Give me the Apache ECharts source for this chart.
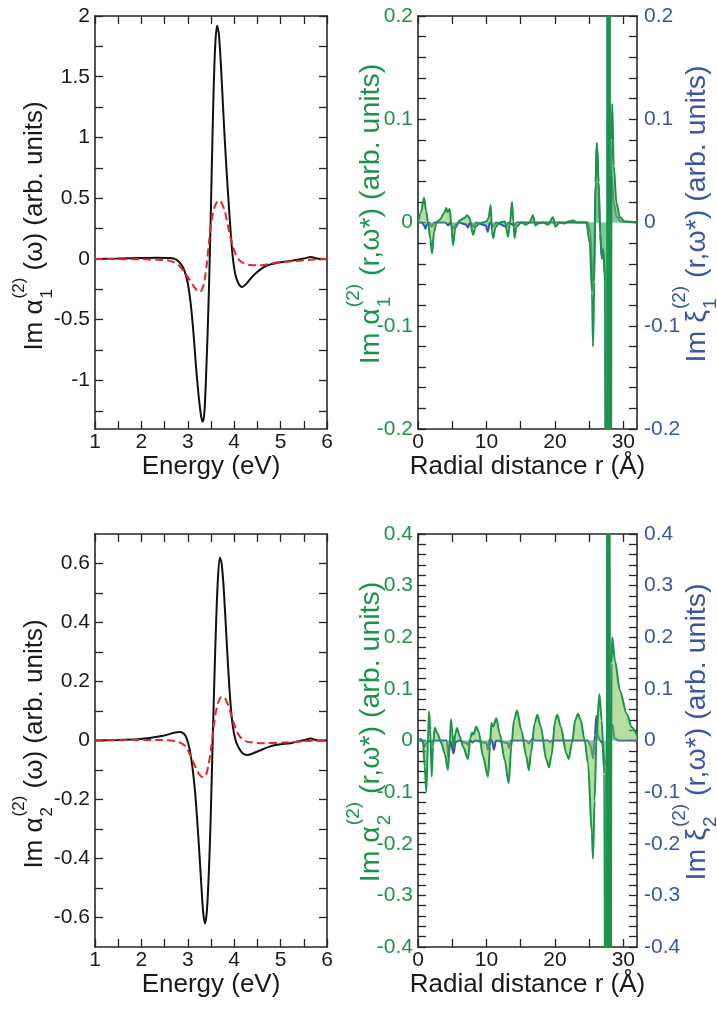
<!DOCTYPE html>
<html><head><meta charset="utf-8">
<script src="https://cdn.jsdelivr.net/npm/echarts@6/dist/echarts.min.js"></script>
<style>html,body{margin:0;padding:0;background:#fff}#c{width:717px;height:1010px}</style>
</head><body><div id="c"></div>
<script>
const FONT = '"Liberation Sans", Arial, Helvetica, sans-serif';

// ---------- data ----------
// Panel (a): Im alpha_1^(2)(omega) vs energy
const energyBlack1 = [[1,0],[1.5,0.003],[2.0,0.008],[2.33,0.01],[2.62,0.008],[2.75,-0.005],[2.85,-0.04],[2.93,-0.1],[3.0,-0.2],[3.06,-0.36],[3.12,-0.6],[3.18,-0.9],[3.24,-1.15],[3.29,-1.3],[3.325,-1.34],[3.36,-1.25],[3.40,-0.9],[3.45,-0.33],[3.50,0.45],[3.55,1.3],[3.59,1.75],[3.63,1.92],[3.67,1.85],[3.72,1.55],[3.78,1.1],[3.84,0.7],[3.90,0.35],[3.96,0.05],[4.02,-0.12],[4.09,-0.2],[4.17,-0.23],[4.26,-0.205],[4.37,-0.155],[4.49,-0.11],[4.63,-0.07],[4.78,-0.045],[5.0,-0.027],[5.21,-0.016],[5.5,0.003],[5.65,0.016],[5.78,0.003],[6,0]];
const energyRed1 = [[1,0],[2.0,-0.003],[2.3,-0.005],[2.62,-0.016],[2.8,-0.05],[2.91,-0.1],[3.02,-0.16],[3.12,-0.22],[3.2,-0.26],[3.26,-0.27],[3.31,-0.25],[3.36,-0.18],[3.41,-0.04],[3.46,0.15],[3.52,0.33],[3.58,0.43],[3.64,0.475],[3.68,0.48],[3.73,0.46],[3.8,0.39],[3.88,0.245],[3.95,0.13],[4.02,0.05],[4.1,-0.005],[4.2,-0.035],[4.35,-0.05],[4.5,-0.052],[4.63,-0.05],[4.92,-0.03],[5.35,-0.016],[5.7,-0.005],[6,0]];
// Panel (b): radial distribution, alpha_1 (green) and xi_1 (blue)
const radialGreen1 = [[0,0],[0.45,0.01],[0.88,0.024],[1.2,0.011],[1.46,0],[1.8,-0.016],[2.05,-0.03],[2.35,-0.009],[2.7,0],[3.2,0.003],[3.8,0.009],[4.14,0.014],[4.3,0.01],[4.63,0.013],[4.87,-0.002],[5.11,-0.022],[5.46,-0.005],[6.1,0.002],[6.7,0.004],[7.2,0.007],[7.55,0.004],[8.04,-0.012],[8.4,-0.004],[9.0,-0.001],[10.0,0.001],[10.3,0.004],[10.62,0.017],[10.8,-0.009],[11.0,-0.015],[11.3,-0.005],[11.9,0],[12.7,0.001],[13.15,-0.014],[13.45,0],[13.74,0.02],[13.93,0.001],[14.1,-0.015],[14.4,-0.004],[15.1,0],[15.8,-0.002],[16.3,0],[16.8,0.007],[17.15,-0.003],[17.5,-0.001],[18.3,0],[19.0,-0.002],[19.73,0.005],[20.07,-0.004],[20.7,0],[21.4,-0.001],[22.0,0.001],[22.7,0.002],[23.2,0],[24.6,0],[25.1,-0.02],[25.42,-0.068],[25.57,-0.12],[25.76,-0.058],[25.96,0.039],[26.15,0.076],[26.4,0.039],[26.64,-0.01],[26.88,-0.034],[27.07,-0.026],[27.35,-0.058],[27.6,-1.5],[27.72,1.5],[27.84,-1.5],[27.96,1.5],[28.08,-1.5],[28.28,0.08],[28.38,0.115],[28.6,0.055],[29.0,0.019],[29.5,0.005],[30.2,0.001],[32,0]];
const radialBlue1 = [[0,0],[0.6,0],[0.9,-0.003],[1.1,-0.006],[1.3,-0.002],[1.6,0],[2.0,-0.004],[2.4,0],[4.0,0],[4.4,-0.003],[4.7,0],[5.1,-0.006],[5.5,-0.002],[6,0],[7.0,-0.002],[7.3,-0.005],[7.6,0],[8.1,-0.004],[8.5,0],[9.9,-0.003],[10.2,-0.009],[10.5,0],[11.0,-0.004],[11.4,0],[12.9,-0.004],[13.2,0],[14.1,-0.003],[14.5,0],[24.8,0],[25.2,-0.01],[25.5,-0.065],[25.75,-0.03],[25.95,0.04],[26.12,0.077],[26.35,0.04],[26.6,-0.01],[26.85,-0.035],[27.1,-0.03],[27.35,-0.05],[27.62,-1.0],[27.8,1.0],[28.05,0.0],[28.3,0.045],[28.6,0.02],[29.0,0.006],[29.6,0.001],[32,0]];
// Panel (c): Im alpha_2^(2)(omega) vs energy
const energyBlack2 = [[1,0],[1.5,0.002],[1.97,0.005],[2.47,0.016],[2.7,0.026],[2.82,0.029],[2.9,0.025],[2.97,0.01],[3.04,-0.03],[3.1,-0.09],[3.16,-0.18],[3.22,-0.31],[3.28,-0.46],[3.33,-0.58],[3.37,-0.62],[3.41,-0.58],[3.45,-0.46],[3.49,-0.28],[3.54,0.02],[3.59,0.3],[3.64,0.52],[3.69,0.62],[3.73,0.6],[3.78,0.5],[3.84,0.33],[3.9,0.17],[3.96,0.06],[4.03,0.0],[4.1,-0.025],[4.18,-0.043],[4.29,-0.049],[4.4,-0.044],[4.55,-0.034],[4.78,-0.02],[5.0,-0.013],[5.21,-0.009],[5.53,0.002],[5.65,0.007],[5.78,0.001],[6,0]];
const energyRed2 = [[1,0],[2.33,0.002],[2.6,0],[2.76,-0.003],[2.9,-0.013],[2.98,-0.026],[3.08,-0.06],[3.16,-0.088],[3.24,-0.113],[3.3,-0.123],[3.35,-0.124],[3.4,-0.113],[3.45,-0.08],[3.5,-0.03],[3.55,0.04],[3.61,0.1],[3.67,0.135],[3.73,0.148],[3.78,0.147],[3.84,0.132],[3.91,0.1],[3.99,0.059],[4.06,0.03],[4.13,0.012],[4.25,-0.002],[4.35,-0.006],[4.63,-0.009],[5.06,-0.007],[5.57,-0.002],[6,0]];
// Panel (d): radial distribution, alpha_2 (green) and xi_2 (blue)
const radialGreen2 = [[0,0],[0.39,0.003],[0.73,-0.002],[0.97,-0.05],[1.22,-0.099],[1.46,0],[1.61,0.056],[1.8,0.02],[2.0,-0.07],[2.19,-0.012],[2.44,0.025],[2.83,0.014],[3.41,-0.005],[3.9,-0.025],[4.38,-0.057],[4.63,-0.005],[4.82,0.041],[5.02,0.014],[5.21,-0.015],[5.46,0.014],[5.7,0.024],[6.09,0.008],[6.58,-0.012],[7.31,-0.036],[7.65,0.005],[7.89,0.015],[8.13,0.012],[8.52,0.027],[8.87,0.017],[9.5,-0.031],[10.23,-0.07],[10.52,-0.012],[10.72,0.034],[10.96,0.027],[11.45,0.043],[11.93,0.014],[12.66,-0.037],[13.25,-0.083],[13.64,-0.012],[14.03,0.04],[14.47,0.058],[15.1,0.02],[15.83,-0.031],[16.2,-0.058],[16.5,-0.025],[17.05,0.034],[17.44,0.05],[17.93,0.027],[18.75,-0.037],[19.14,-0.052],[19.48,-0.031],[20.07,0.04],[20.36,0.05],[20.85,0.027],[21.68,-0.025],[22.02,-0.036],[22.5,-0.005],[22.99,0.04],[23.38,0.052],[23.77,0.04],[24.35,0],[24.84,-0.044],[25.4,-0.18],[25.57,-0.229],[25.8,-0.116],[26.1,0.013],[26.5,0.09],[26.85,0.039],[27.2,-0.065],[27.55,-1.5],[27.68,1.5],[27.81,-1.5],[27.94,1.5],[28.07,-1.5],[28.28,0.15],[28.38,0.2],[28.77,0.155],[29.5,0.097],[30.5,0.052],[31.2,0.026],[32,0.01]];
const radialBlue2 = [[0,0],[0.7,0],[0.95,-0.012],[1.2,-0.006],[1.5,0],[2.0,-0.004],[2.3,0],[4.2,0],[4.45,-0.034],[4.7,0],[5.2,-0.025],[5.5,-0.003],[6,0],[7.1,-0.005],[7.3,-0.008],[7.6,0],[8.0,-0.004],[8.3,0],[10.0,-0.005],[10.2,-0.018],[10.5,0.003],[10.8,0],[11.1,-0.018],[11.4,0],[13.1,-0.005],[13.3,-0.015],[13.6,0],[15.8,0],[16.2,-0.006],[16.5,0],[16.8,0.004],[17.1,0],[19.0,0],[19.3,-0.003],[19.6,0],[24.8,0],[25.2,-0.01],[25.6,-0.035],[25.85,0.01],[26.05,0.048],[26.3,0.01],[26.6,0],[26.9,-0.005],[27.2,-0.03],[27.4,-0.05],[27.62,-1.0],[27.8,1.0],[28.05,0.0],[28.3,0.03],[28.45,0.03],[28.7,0.005],[29.3,0],[32,0]];

// ---------- ticks & labels ----------
const energyTicks = [1,1.5,2,2.5,3,3.5,4,4.5,5,5.5,6];
const energyLabels = [1,2,3,4,5,6];
const radialTicks = [0,5,10,15,20,25,30];
const radialLabels = [0,10,20,30];
const yTicksA = [-1.25,-1,-0.75,-0.5,-0.25,0,0.25,0.5,0.75,1,1.25,1.5,1.75,2];
const yLabelsA = [-1,-0.5,0,0.5,1,1.5,2];
const yTicksB = [-0.2,-0.18,-0.16,-0.14,-0.12,-0.1,-0.08,-0.06,-0.04,-0.02,0,0.02,0.04,0.06,0.08,0.1,0.12,0.14,0.16,0.18,0.2];
const yLabelsB = [-0.2,-0.1,0,0.1,0.2];
const yTicksC = [-0.6,-0.5,-0.4,-0.3,-0.2,-0.1,0,0.1,0.2,0.3,0.4,0.5,0.6];
const yLabelsC = [-0.6,-0.4,-0.2,0,0.2,0.4,0.6];
const yTicksD = [-0.4,-0.38,-0.36,-0.34,-0.32,-0.3,-0.28,-0.26,-0.24,-0.22,-0.2,-0.18,-0.16,-0.14,-0.12,-0.1,-0.08,-0.06,-0.04,-0.02,0,0.02,0.04,0.06,0.08,0.1,0.12,0.14,0.16,0.18,0.2,0.22,0.24,0.26,0.28,0.3,0.32,0.34,0.36,0.38,0.4];
const yLabelsD = [-0.4,-0.3,-0.2,-0.1,0,0.1,0.2,0.3,0.4];

// ---------- styling ----------
const AX = '#262626';
const TXT = '#1a1a1a';
const GREEN = '#1a9448';
const BLUE = '#3a55a4';
const RED = '#e8262b';

const grids = [
  {left:95, top:16, width:232, height:413},
  {left:418, top:16, width:219, height:413},
  {left:95, top:534, width:232, height:413},
  {left:418, top:534, width:219, height:413}
];

function xAx(g, min, max, ticks, labels, pos, name) {
  return {
    type:'value', gridIndex:g, position:pos, min:min, max:max,
    axisLine:{show:true, onZero:false, lineStyle:{color:AX, width:1.6}},
    axisTick:{show:true, inside:true, length:8, customValues:ticks, lineStyle:{color:AX, width:1.3}},
    axisLabel:{show: !!labels, customValues:labels || ticks, margin:3, fontSize:21, fontFamily:FONT, color:TXT},
    splitLine:{show:false},
    name: name || '', nameLocation:'middle', nameGap:17,
    nameTextStyle:{fontSize:26, fontFamily:FONT, color:TXT}
  };
}
function yAx(g, min, max, ticks, labels, pos, color) {
  return {
    type:'value', gridIndex:g, position:pos, min:min, max:max,
    axisLine:{show:true, onZero:false, lineStyle:{color:AX, width:1.6}},
    axisTick:{show:true, inside:true, length:8, customValues:ticks, lineStyle:{color:AX, width:1.3}},
    axisLabel:{show: !!labels, customValues:labels || ticks, margin: pos==='right'?7:5, fontSize:21, fontFamily:FONT, color:color || TXT},
    splitLine:{show:false}
  };
}

const xAxes = [
  xAx(0,1,6,energyTicks,energyLabels,'bottom','Energy (eV)'),
  xAx(0,1,6,energyTicks,null,'top'),
  xAx(1,0,32,radialTicks,radialLabels,'bottom','Radial distance r (\u00C5)'),
  xAx(1,0,32,radialTicks,null,'top'),
  xAx(2,1,6,energyTicks,energyLabels,'bottom','Energy (eV)'),
  xAx(2,1,6,energyTicks,null,'top'),
  xAx(3,0,32,radialTicks,radialLabels,'bottom','Radial distance r (\u00C5)'),
  xAx(3,0,32,radialTicks,null,'top')
];
const yAxes = [
  yAx(0,-1.4,2,yTicksA,yLabelsA,'left'),
  yAx(0,-1.4,2,yTicksA,null,'right'),
  yAx(1,-0.2,0.2,yTicksB,yLabelsB,'left',GREEN),
  yAx(1,-0.2,0.2,yTicksB,yLabelsB,'right',BLUE),
  yAx(2,-0.7,0.7,yTicksC,yLabelsC,'left'),
  yAx(2,-0.7,0.7,yTicksC,null,'right'),
  yAx(3,-0.4,0.4,yTicksD,yLabelsD,'left',GREEN),
  yAx(3,-0.4,0.4,yTicksD,yLabelsD,'right',BLUE)
];

function lineS(data, xi, yi, color, dashed) {
  return {type:'line', data:data, xAxisIndex:xi, yAxisIndex:yi, symbol:'none', smooth:0.3,
    lineStyle:{color:color, width:2, type: dashed ? [8,4] : 'solid'}, z:3, silent:true};
}
function areaS(data, xi, yi, color, fill, z) {
  return {type:'line', data:data, xAxisIndex:xi, yAxisIndex:yi, symbol:'none', smooth:0.3, smoothMonotone:'x',
    lineStyle:{color:color, width:2}, areaStyle:{color:fill, origin:'auto', opacity:1}, z:z, silent:true};
}
const BLUEFILL = 'rgba(95,190,235,0.75)';
const GREENFILL = 'rgba(122,194,82,0.55)';

const series = [
  lineS(energyBlack1,0,0,'#111'),
  lineS(energyRed1,0,0,RED,true),
  areaS(radialBlue1,2,3,BLUE,BLUEFILL,2),
  areaS(radialGreen1,2,2,GREEN,GREENFILL,3),
  lineS(energyBlack2,4,4,'#111'),
  lineS(energyRed2,4,4,RED,true),
  areaS(radialBlue2,6,7,BLUE,BLUEFILL,2),
  areaS(radialGreen2,6,6,GREEN,GREENFILL,3)
];

// ---------- rotated y titles with stacked sub/superscripts ----------
const cv = document.createElement('canvas').getContext('2d');
function tw(t, s) { cv.font = s + 'px ' + FONT; return cv.measureText(t).width; }
function yTitle(cx, cy, base, sup, sub, rest, color, M) {
  const S = Math.round(M * 0.66);
  const wb = tw(base, M), ws = tw(sup, S), wsub = tw(sub, S), wr = tw(rest, M);
  const wm = Math.max(ws, wsub) + 1;
  const W = wb + wm + wr;
  const x0 = -W / 2;
  const mk = (t, x, y, s) => ({type:'text', x:x, y:y, silent:true,
    style:{text:t, font: s + 'px ' + FONT, fill:color, align:'left', verticalAlign:'middle', textAlign:'left', textVerticalAlign:'middle'}});
  return {type:'group', x:cx, y:cy, rotation:Math.PI/2, silent:true, children:[
    mk(base, x0, 0, M),
    mk(sup, x0 + wb + 1, -M * 0.6, S),
    mk(sub, x0 + wb + 1, M * 0.47, S),
    mk(rest, x0 + wb + wm, 0, M)
  ]};
}
const graphics = [
  yTitle(35, 226, 'Im \u03B1', '(2)', '1', ' (\u03C9) (arb. units)', TXT, 26),
  yTitle(371, 214, 'Im \u03B1', '(2)', '1', ' (r,\u03C9*) (arb. units)', GREEN, 28.5),
  yTitle(697, 214, 'Im \u03BE', '(2)', '1', ' (r,\u03C9*) (arb. units)', BLUE, 28.5),
  yTitle(35, 744, 'Im \u03B1', '(2)', '2', ' (\u03C9) (arb. units)', TXT, 26),
  yTitle(371, 732, 'Im \u03B1', '(2)', '2', ' (r,\u03C9*) (arb. units)', GREEN, 28.5),
  yTitle(697, 732, 'Im \u03BE', '(2)', '2', ' (r,\u03C9*) (arb. units)', BLUE, 28.5)
];

const chart = echarts.init(document.getElementById('c'), null, {renderer:'canvas'});
chart.setOption({
  animation:false,
  backgroundColor:'#ffffff',
  grid: grids,
  xAxis: xAxes,
  yAxis: yAxes,
  series: series,
  graphic: graphics
});
</script>
</body></html>
